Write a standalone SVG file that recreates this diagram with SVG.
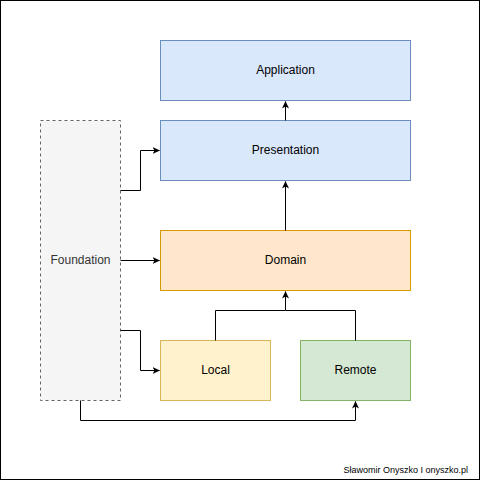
<svg xmlns="http://www.w3.org/2000/svg" width="481" height="481" viewBox="0 0 481 481">
<style>
.lbl{font-family:"Liberation Sans",Arial,sans-serif;font-size:12px;fill:#000;text-anchor:middle;dominant-baseline:central}
.edge{fill:none;stroke:#000;stroke-width:1}
.blue{fill:#dae8fc;stroke:#6c8ebf}
</style>
<defs>
<marker id="arr" markerWidth="8" markerHeight="8" refX="7" refY="4" orient="auto" markerUnits="userSpaceOnUse">
<path d="M0,0.5 L7.5,4 L0,7.5 L2,4 Z" fill="#000"/>
</marker>
</defs>
<rect x="0" y="0" width="481" height="481" fill="#fff"/>
<rect x="0.5" y="0.5" width="479" height="479" fill="none" stroke="#000"/>
<g id="application"><rect class="blue" x="160.5" y="40.5" width="250" height="60"/><text class="lbl" x="285.5" y="70">Application</text></g>
<g id="presentation"><rect class="blue" x="160.5" y="120.5" width="250" height="60"/><text class="lbl" x="285.5" y="150">Presentation</text></g>
<g id="domain"><rect x="160.5" y="230.5" width="250" height="60" fill="#ffe6cc" stroke="#d79b00"/><text class="lbl" x="285.5" y="260">Domain</text></g>
<g id="local"><rect x="160.5" y="340.5" width="110" height="60" fill="#fff2cc" stroke="#d6b656"/><text class="lbl" x="215.5" y="370">Local</text></g>
<g id="remote"><rect x="300.5" y="340.5" width="110" height="60" fill="#d5e8d4" stroke="#82b366"/><text class="lbl" x="355.5" y="370">Remote</text></g>
<g id="foundation"><rect x="40.5" y="120.5" width="80" height="280" fill="#f5f5f5" stroke="#666666" stroke-dasharray="3,3"/><text class="lbl" x="80.5" y="260" style="fill:#333">Foundation</text></g>
<g id="connectors">
<path class="edge" d="M120.5,190.5 H140.5 V150.5 H159.5" marker-end="url(#arr)"/>
<path class="edge" d="M120.5,260.5 H159.5" marker-end="url(#arr)"/>
<path class="edge" d="M120.5,330.5 H140.5 V370.5 H159.5" marker-end="url(#arr)"/>
<path class="edge" d="M80.5,400.5 V420.5 H355.5 V401.5" marker-end="url(#arr)"/>
<path class="edge" d="M215.5,340.5 V310.5 H285.5 V291.5" marker-end="url(#arr)"/>
<path class="edge" d="M355.5,340.5 V310.5 H285.5"/>
<path class="edge" d="M285.5,230.5 V181.5" marker-end="url(#arr)"/>
<path class="edge" d="M285.5,120.5 V101.5" marker-end="url(#arr)"/>
</g>
<text x="468" y="473" font-family="'Liberation Sans',Arial,sans-serif" font-size="9" text-anchor="end" fill="#000">Sławomir Onyszko I onyszko.pl</text>
</svg>
